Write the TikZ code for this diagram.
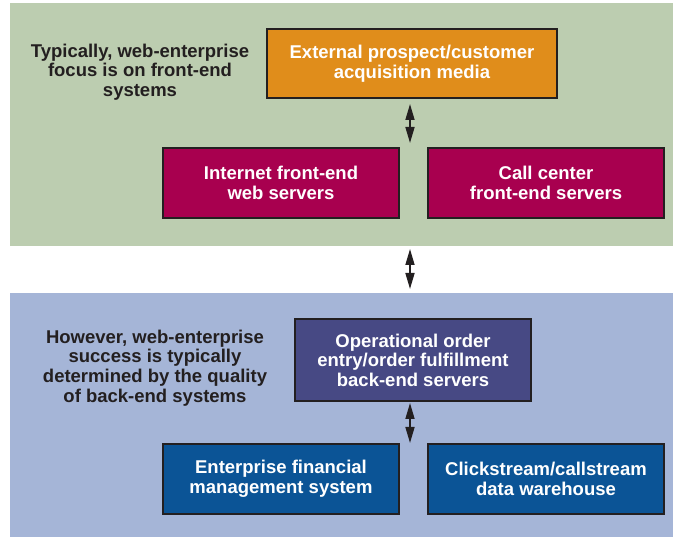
\documentclass[tikz,border=0pt]{standalone}
\usepackage{fontspec}
\setmainfont{Liberation Sans}
\usepackage{xcolor}
\usetikzlibrary{positioning, arrows.meta}

\definecolor{frontgreen}{HTML}{BCCDB0}
\definecolor{backblue}{HTML}{A5B5D7}
\definecolor{mediaorange}{HTML}{E08D1B}
\definecolor{servermagenta}{HTML}{A8004F}
\definecolor{ordernavy}{HTML}{474984}
\definecolor{systemblue}{HTML}{0B5496}
\definecolor{inkgray}{HTML}{231F20}

\tikzset{
    panel/.style={fill=#1, draw=none, anchor=north west, inner sep=0, minimum width=663pt},
    box/.style={fill=#1, draw=inkgray, line width=2pt, text=white, align=center,
        font=\bfseries\fontsize{18.5}{19.5}\selectfont, inner sep=0,
        minimum width=236pt, minimum height=70pt},
    note/.style={text=inkgray, align=center, font=\bfseries\fontsize{18.5}{19.7}\selectfont},
    twoway/.style={{Triangle[width=9pt,length=16pt]}-{Triangle[width=9pt,length=16pt]},
        line width=1.6pt, draw=inkgray}
}

\begin{document}
\begin{tikzpicture}[x=1pt, y=-1pt]
    \useasboundingbox (0,0) rectangle (673,537);

    % the two panels
    \node[panel=frontgreen, minimum height=243pt] (front) at (10,3) {};
    \node[panel=backblue, minimum height=244pt] (back) at (10,293) {};

    % front-end side
    \node[note] (frontnote) at (140,72) {Typically, web-enterprise\\focus is on front-end\\systems};
    \node[box=mediaorange, minimum width=290pt, minimum height=69pt] (media) at (412,63.5)
        {External prospect/customer\\acquisition media};
    \node[box=servermagenta] (web) at (281,183) {Internet front-end\\web servers};
    \node[box=servermagenta, right=27pt of web] (call) {Call center\\front-end servers};

    % back-end side
    \node[note] (backnote) at (155,368) {However, web-enterprise\\success is typically\\determined by the quality\\of back-end systems};
    \node[box=ordernavy, minimum height=82pt] (order) at (413,360)
        {Operational order\\entry/order fulfillment\\back-end servers};
    \node[box=systemblue] (finance) at (281,479) {Enterprise financial\\management system};
    \node[box=systemblue, right=27pt of finance] (warehouse) {Clickstream/callstream\\data warehouse};

    % arrows
    \coordinate (mediaend) at (410,104);
    \coordinate (webgap) at (410,143);
    \coordinate (frontend) at (410,249);
    \coordinate (backend) at (410,289);
    \coordinate (orderend) at (410,403);
    \coordinate (financegap) at (410,443);

    \draw[twoway] (mediaend) -- (webgap);
    \draw[twoway] (frontend) -- (backend);
    \draw[twoway] (orderend) -- (financegap);
\end{tikzpicture}
\end{document}
